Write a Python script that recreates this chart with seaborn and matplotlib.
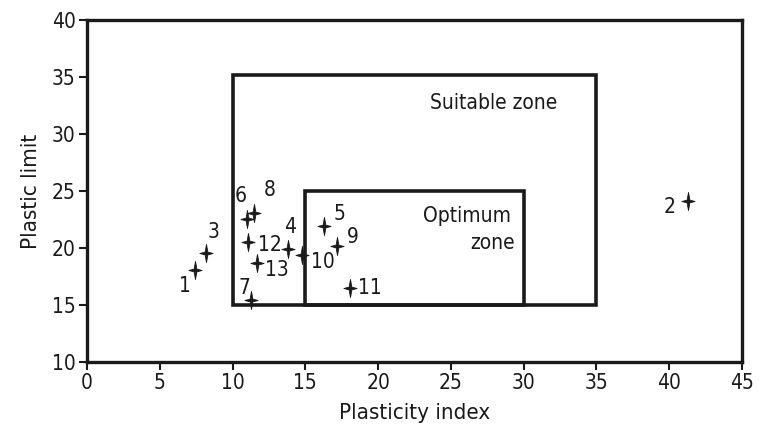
import pandas as pd
import matplotlib
matplotlib.use("Agg")
import matplotlib.pyplot as plt
import matplotlib.patches as mpatches
from matplotlib.path import Path
import seaborn as sns

# ---------------- data ----------------
sample_ids = ["1", "2", "3", "4", "5", "6", "7", "8", "9", "10", "11", "12", "13"]
plasticity_index = [7.4, 41.3, 8.2, 13.8, 16.3, 11.0, 11.3, 11.5, 17.2, 14.8, 18.1, 11.05, 11.7]
plastic_limit = [18.1, 24.1, 19.6, 19.9, 21.9, 22.5, 15.4, 23.1, 20.2, 19.4, 16.5, 20.5, 18.7]

# label offsets (points) from each marker
label_dx = [-7, -13, 5, 1.5, 11, -5, -5, 11, 11, 15, 14, 16, 14]
label_dy = [-12, -4, 15, 16, 9, 17, 9, 16, 6, -5, 0, -2, -5]

# zones: (x0, x1, y0, y1)
suitable_zone = (10, 35, 15, 35.2)
optimum_zone = (15, 30, 15, 25)

df = pd.DataFrame({
    "sample": sample_ids,
    "PI": plasticity_index,
    "PL": plastic_limit,
})

# four-pointed star marker, a bit taller than wide
star = Path([(0, 1.3), (0.2, 0.2), (0.95, 0), (0.2, -0.2),
             (0, -1.3), (-0.2, -0.2), (-0.95, 0), (-0.2, 0.2), (0, 1.3)],
            closed=True)

# ---------------- plot ----------------
sns.set_style("white")
plt.rcParams["font.family"] = ["DejaVu Sans"]
plt.rcParams["font.stretch"] = "condensed"

fig = plt.figure(figsize=(7.59, 4.32), dpi=100)
ax = fig.add_axes([0.1146, 0.162, 0.863, 0.792])

for x0, x1, y0, y1 in [suitable_zone, optimum_zone]:
    ax.add_patch(mpatches.Rectangle((x0, y0), x1 - x0, y1 - y0,
                                    fill=False, edgecolor="#1a1a1a", linewidth=2.6))

sns.scatterplot(
    data=df,
    x="PI",
    y="PL",
    marker=star,
    s=170,
    color="#1a1a1a",
    edgecolor="#1a1a1a",
    linewidth=0.6,
    zorder=5,
    ax=ax,
)

txt = dict(fontsize=15, color="#1a1a1a", fontstretch="condensed")

for sid, xv, yv, dx, dy in zip(sample_ids, plasticity_index, plastic_limit, label_dx, label_dy):
    ax.annotate(sid, (xv, yv), xytext=(dx, dy), textcoords="offset points",
                ha="center", va="center", **txt)

ax.text(27.95, 32.7, "Suitable zone", ha="center", va="center", **txt)
ax.text(26.1, 22.8, "Optimum", ha="center", va="center", **txt)
ax.text(29.4, 20.4, "zone", ha="right", va="center", **txt)

ax.set_xlim(0, 45)
ax.set_ylim(10, 40)
ax.set_xticks(range(0, 50, 5))
ax.set_yticks(range(10, 45, 5))
ax.set_xlabel("Plasticity index", fontsize=16, color="#1a1a1a",
              fontstretch="condensed", labelpad=7)
ax.set_ylabel("Plastic limit", fontsize=16, color="#1a1a1a",
              fontstretch="condensed", labelpad=8)
ax.tick_params(axis="both", labelsize=15, direction="out", length=6, width=1.5,
               colors="#1a1a1a", bottom=True, left=True, pad=2)
for lab in ax.get_xticklabels() + ax.get_yticklabels():
    lab.set_fontstretch("condensed")

for spine in ax.spines.values():
    spine.set_linewidth(2.4)
    spine.set_color("#1a1a1a")

fig.savefig("out.png", dpi=100)
